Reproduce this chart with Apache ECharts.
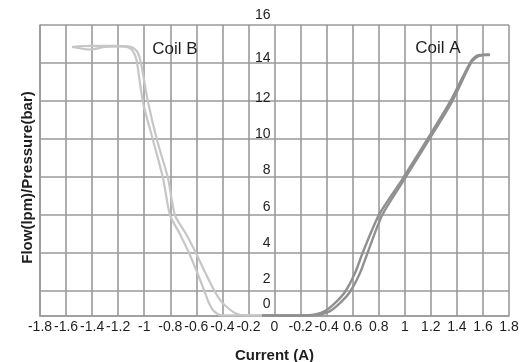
<!DOCTYPE html>
<html>
<head>
<meta charset="utf-8">
<script src="https://cdn.jsdelivr.net/npm/echarts@6.0.0/dist/echarts.min.js"></script>
<style>
  body { margin: 0; background: #fff; }
  #chart { width: 528px; height: 362px; }
</style>
</head>
<body>
<div id="chart"></div>
<script>
// x tick labels as printed on the original (note the odd "-0.2 -0.4" right of zero)
let xTickLabels = ['-1.8', '-1.6', '-1.4', '-1.2', '-1', '-0.8', '-0.6', '-0.4', '-0.2', '0',
    '-0.2', '-0.4', '0.6', '0.8', '1', '1.2', '1.4', '1.6', '1.8'];

// Coil B, two branches of the hysteresis loop [current, flow]
let coilBInner = [
    [-1.554, 14.79], [-1.416, 14.65], [-1.301, 14.79], [-1.186, 14.82], [-1.132, 14.79],
    [-1.094, 14.63], [-1.071, 14.35], [-1.056, 13.97], [-1.010, 11.77], [-0.933, 9.68],
    [-0.856, 7.59], [-0.802, 5.55], [-0.726, 4.51], [-0.656, 3.46], [-0.595, 2.42],
    [-0.541, 1.43], [-0.503, 0.71], [-0.465, 0.27], [-0.403, 0.03], [-0.035, 0.03]
];
let coilBOuter = [
    [-1.554, 14.79], [-1.416, 14.85], [-1.240, 14.85], [-1.125, 14.82], [-1.079, 14.71],
    [-1.048, 14.46], [-1.025, 13.91], [-0.971, 11.77], [-0.902, 9.68], [-0.818, 7.59],
    [-0.764, 5.55], [-0.679, 4.51], [-0.603, 3.46], [-0.534, 2.42], [-0.465, 1.43],
    [-0.411, 0.82], [-0.357, 0.44], [-0.296, 0.14], [-0.219, 0.03], [-0.035, 0.03]
];

// Coil A, two branches
let coilALeft = [
    [-0.096, 0.03], [0.200, 0.03], [0.311, 0.08], [0.387, 0.27], [0.464, 0.71], [0.541, 1.32],
    [0.618, 2.36], [0.679, 3.52], [0.801, 5.55], [0.978, 7.48], [1.170, 9.68],
    [1.347, 11.77], [1.500, 13.91], [1.539, 14.24], [1.577, 14.35], [1.654, 14.35]
];
let coilARight = [
    [-0.096, 0.03], [0.240, 0.03], [0.349, 0.08], [0.426, 0.27], [0.502, 0.71], [0.579, 1.32],
    [0.656, 2.36], [0.717, 3.52], [0.827, 5.55], [0.994, 7.48], [1.185, 9.68],
    [1.362, 11.77], [1.508, 13.91], [1.554, 14.24], [1.600, 14.35], [1.654, 14.38]
];

let coilNames = ['Coil B', 'Coil A'];
let coilLabelPos = [[-0.764, 14.68], [1.254, 14.73]];

let gridColor = '#9a9a9a';
let textColor = '#1e1e1e';
let font = 'Liberation Sans, Arial, Helvetica, sans-serif';
let colorB = '#c6c6c6';
let colorA = '#909090';

function coilLabel(i) {
    return {
        data: [{ coord: coilLabelPos[i], name: coilNames[i] }],
        symbol: 'circle',
        symbolSize: 1,
        itemStyle: { color: 'rgba(0,0,0,0)' },
        label: {
            show: true,
            position: 'inside',
            formatter: coilNames[i],
            color: textColor,
            fontSize: 17,
            fontFamily: font
        },
        silent: true
    };
}

function branch(name, data, color, width, mark) {
    let s = {
        name: name,
        type: 'line',
        yAxisIndex: 0,
        data: data,
        smooth: 0.25,
        showSymbol: false,
        lineStyle: { color: color, width: width }
    };
    if (mark) s.markPoint = mark;
    return s;
}

let option = {
    animation: false,
    backgroundColor: '#fff',
    textStyle: { fontFamily: font },
    grid: { left: 40, right: 19, top: 25, bottom: 46, outerBoundsMode: 'none' },
    xAxis: {
        type: 'value',
        min: -1.8,
        max: 1.8,
        interval: 0.2,
        name: 'Current (A)',
        nameLocation: 'middle',
        nameGap: 32,
        nameTextStyle: { fontSize: 15, fontWeight: 'bold', color: textColor, fontFamily: font },
        axisLine: { show: true, onZero: false, lineStyle: { color: gridColor, width: 1.6 } },
        axisTick: { show: false },
        axisLabel: {
            margin: 4,
            fontSize: 14,
            color: textColor,
            fontFamily: font,
            formatter: function (v) {
                return xTickLabels[Math.round((v + 1.8) / 0.2)];
            }
        },
        splitLine: { show: true, lineStyle: { color: gridColor, width: 1.6 } }
    },
    yAxis: [
        {
            // value scale, labels sit on the zero line (offset into the grid)
            type: 'value',
            min: 0,
            max: 16,
            interval: 2,
            position: 'left',
            offset: -234.5,
            axisLine: { show: false, onZero: false },
            axisTick: { show: false },
            splitLine: { show: false },
            axisLabel: {
                margin: 4,
                fontSize: 14,
                color: textColor,
                fontFamily: font,
                formatter: function (v) {
                    if (v === 16) return '{hi|16}';
                    if (v === 0) return '{lo|0}';
                    if (v === 14) return '{mid|14}';
                    return String(v);
                },
                rich: {
                    hi: { fontSize: 14, color: textColor, fontFamily: font, padding: [0, 0, 20, 0] },
                    mid: { fontSize: 14, color: textColor, fontFamily: font, padding: [0, 0, 6, 0] },
                    lo: { fontSize: 14, color: textColor, fontFamily: font, padding: [0, 0, 24, 0] }
                }
            }
        },
        {
            // helper axis for the horizontal rules, counted from the top
            type: 'value',
            inverse: true,
            min: 0,
            max: 15.316,
            interval: 2,
            position: 'left',
            name: 'Flow(lpm)/Pressure(bar)',
            nameLocation: 'middle',
            nameGap: 5,
            nameTextStyle: {
                fontSize: 15, fontWeight: 'bold', color: textColor, fontFamily: font,
                padding: [0, 14, 0, 0]
            },
            axisLine: { show: true, onZero: false, lineStyle: { color: gridColor, width: 1.6 } },
            axisTick: { show: false },
            axisLabel: { show: false },
            splitLine: { show: true, lineStyle: { color: gridColor, width: 1.6 } }
        }
    ],
    series: [
        branch('Coil B', coilBInner, colorB, 2.2, coilLabel(0)),
        branch('Coil B', coilBOuter, colorB, 2.2),
        branch('Coil A', coilALeft, colorA, 2.4, coilLabel(1)),
        branch('Coil A', coilARight, colorA, 2.4)
    ]
};

let chart = echarts.init(document.getElementById('chart'));
chart.setOption(option);
</script>
</body>
</html>
